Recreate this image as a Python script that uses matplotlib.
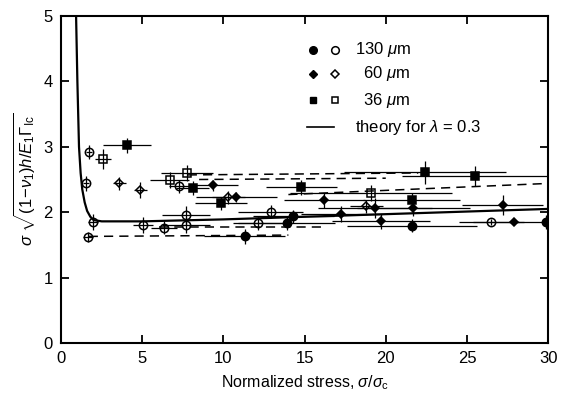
import matplotlib
matplotlib.use("Agg")
import matplotlib.pyplot as plt

plt.rcParams['font.family'] = ['Liberation Sans', 'DejaVu Sans']
plt.rcParams['mathtext.fontset'] = 'custom'
plt.rcParams['mathtext.rm'] = 'Liberation Sans'
plt.rcParams['mathtext.it'] = 'Liberation Sans:italic'
plt.rcParams['mathtext.sf'] = 'Liberation Sans'

# 130 um films
c130_fill_x = [11.3, 13.9, 14.3, 21.6, 29.9]
c130_fill_y = [1.63, 1.83, 1.94, 1.79, 1.85]
c130_fill_xe = [2.5, 3.0, 2.5, 4.0, 4.5]
c130_fill_ye = [0.12, 0.10, 0.10, 0.10, 0.10]

c130_open_x = [1.73, 1.54, 1.97, 1.66, 5.05, 6.35, 7.7, 7.7, 7.27, 12.9, 12.1, 26.5]
c130_open_y = [2.92, 2.44, 1.85, 1.62, 1.80, 1.76, 1.95, 1.80, 2.40, 2.01, 1.83, 1.85]
c130_open_xe = [0.2, 0.2, 0.3, 0.3, 0.6, 0.8, 1.5, 1.5, 0.6, 2.0, 1.5, 2.0]
c130_open_ye = [0.10, 0.12, 0.12, 0.08, 0.12, 0.10, 0.15, 0.12, 0.10, 0.10, 0.10, 0.05]

# 60 um films
d60_fill_x = [9.37, 10.8, 16.2, 19.35, 21.7, 17.25, 19.7, 27.2, 27.9]
d60_fill_y = [2.41, 2.23, 2.18, 2.06, 2.06, 1.97, 1.86, 2.11, 1.85]
d60_fill_xe = [1.5, 2.5, 2.5, 3.5, 3.5, 2.5, 3.0, 2.5, 0.3]
d60_fill_ye = [0.08, 0.08, 0.12, 0.15, 0.12, 0.12, 0.12, 0.15, 0.05]

d60_open_x = [3.57, 4.87, 10.3, 18.8]
d60_open_y = [2.44, 2.34, 2.23, 2.09]
d60_open_xe = [0.4, 0.4, 1.0, 1.0]
d60_open_ye = [0.10, 0.12, 0.10, 0.10]

# 36 um films
s36_fill_x = [4.05, 8.1, 9.86, 14.8, 22.4, 21.6, 25.5]
s36_fill_y = [3.02, 2.37, 2.14, 2.38, 2.61, 2.18, 2.55]
s36_fill_xe = [1.5, 1.0, 1.6, 2.2, 5.0, 3.0, 4.5]
s36_fill_ye = [0.12, 0.10, 0.10, 0.12, 0.18, 0.12, 0.15]

s36_open_x = [2.6, 6.7, 7.76, 19.1]
s36_open_y = [2.81, 2.49, 2.60, 2.29]
s36_open_xe = [0.5, 1.2, 1.6, 5.0]
s36_open_ye = [0.15, 0.12, 0.12, 0.12]

# theory curve for lambda = 0.3
theory_x = [0.92, 0.96, 1.0, 1.05, 1.1, 1.2, 1.3, 1.45, 1.6, 1.8, 2.0, 2.5, 3.0, 5.0,
            10.0, 15.0, 20.0, 25.0, 30.0]
theory_y = [5.0, 4.5, 4.0, 3.5, 3.0, 2.6, 2.35, 2.15, 2.02, 1.93, 1.88, 1.86, 1.86, 1.86,
            1.89, 1.93, 1.97, 2.01, 2.05]

# dashed extensions of one-sided stress ranges
dash_lines = [
    ([1.7, 14.0], [1.63, 1.65]),
    ([6.0, 16.0], [1.78, 1.78]),
    ([7.8, 22.0], [2.57, 2.60]),
    ([8.5, 20.0], [2.50, 2.52]),
    ([14.0, 30.0], [2.27, 2.44]),
]

legend_rows = ['130 $\\mu$m', '60 $\\mu$m', '36 $\\mu$m', 'theory for $\\lambda$ = 0.3']

fig = plt.figure(figsize=(5.61, 4.0), dpi=100)
ax = fig.add_axes([0.109, 0.1425, 0.868, 0.8175])

ax.plot(theory_x, theory_y, color='black', lw=1.6, zorder=3)
for xs, ys in dash_lines:
    ax.plot(xs, ys, color='black', lw=1.1, ls=(0, (6, 4)), zorder=2)

series = [
    (c130_fill_x, c130_fill_y, c130_fill_xe, c130_fill_ye, 'o', True),
    (c130_open_x, c130_open_y, c130_open_xe, c130_open_ye, 'o', False),
    (d60_fill_x, d60_fill_y, d60_fill_xe, d60_fill_ye, 'D', True),
    (d60_open_x, d60_open_y, d60_open_xe, d60_open_ye, 'D', False),
    (s36_fill_x, s36_fill_y, s36_fill_xe, s36_fill_ye, 's', True),
    (s36_open_x, s36_open_y, s36_open_xe, s36_open_ye, 's', False),
]
for xs, ys, xe, ye, mk, filled in series:
    ax.errorbar(xs, ys, xerr=xe, yerr=ye, fmt='none', ecolor='black',
                elinewidth=0.9, capsize=0, zorder=4)
    ms = 6.0 if mk == 'o' else (4.5 if mk == 'D' else 5.5)
    ax.plot(xs, ys, ls='none', marker=mk, markersize=ms,
            markerfacecolor='black' if filled else 'none',
            markeredgecolor='black', markeredgewidth=1.1, zorder=5)

# legend drawn in axes coordinates
row_y = [0.897, 0.824, 0.742, 0.660]
mk_list = ['o', 'D', 's']
for i, label in enumerate(legend_rows):
    if i < 3:
        ms = 5.5 if mk_list[i] == 'o' else (4.5 if mk_list[i] == 'D' else 5.0)
        ax.plot([0.517], [row_y[i]], transform=ax.transAxes, marker=mk_list[i],
                markersize=ms, color='black', ls='none')
        ax.plot([0.562], [row_y[i]], transform=ax.transAxes, marker=mk_list[i],
                markersize=ms, markerfacecolor='none', markeredgecolor='black',
                markeredgewidth=1.1, ls='none')
        tx = 0.603 if i == 0 else 0.62
    else:
        ax.plot([0.505, 0.56], [row_y[i], row_y[i]], transform=ax.transAxes,
                color='black', lw=1.2)
        tx = 0.603
    ax.text(tx, row_y[i], label, transform=ax.transAxes, fontsize=12,
            va='center', ha='left')

ax.set_xlim(0, 30)
ax.set_ylim(0, 5)
ax.set_xticks([0, 5, 10, 15, 20, 25, 30])
ax.set_yticks([0, 1, 2, 3, 4, 5])
ax.tick_params(direction='in', top=True, right=True, length=6, width=1.3,
               labelsize=12, pad=6)
for sp in ax.spines.values():
    sp.set_linewidth(1.5)

ax.set_xlabel('Normalized stress, $\\sigma/\\sigma_{\\rm c}$', fontsize=11.5, labelpad=5)
ax.set_ylabel('$\\sigma\\ \\sqrt{(1\\!-\\!\\nu_1)h/E_1\\Gamma_{\\rm Ic}}$', fontsize=12,
              labelpad=4)

fig.savefig('out.png', dpi=100)
